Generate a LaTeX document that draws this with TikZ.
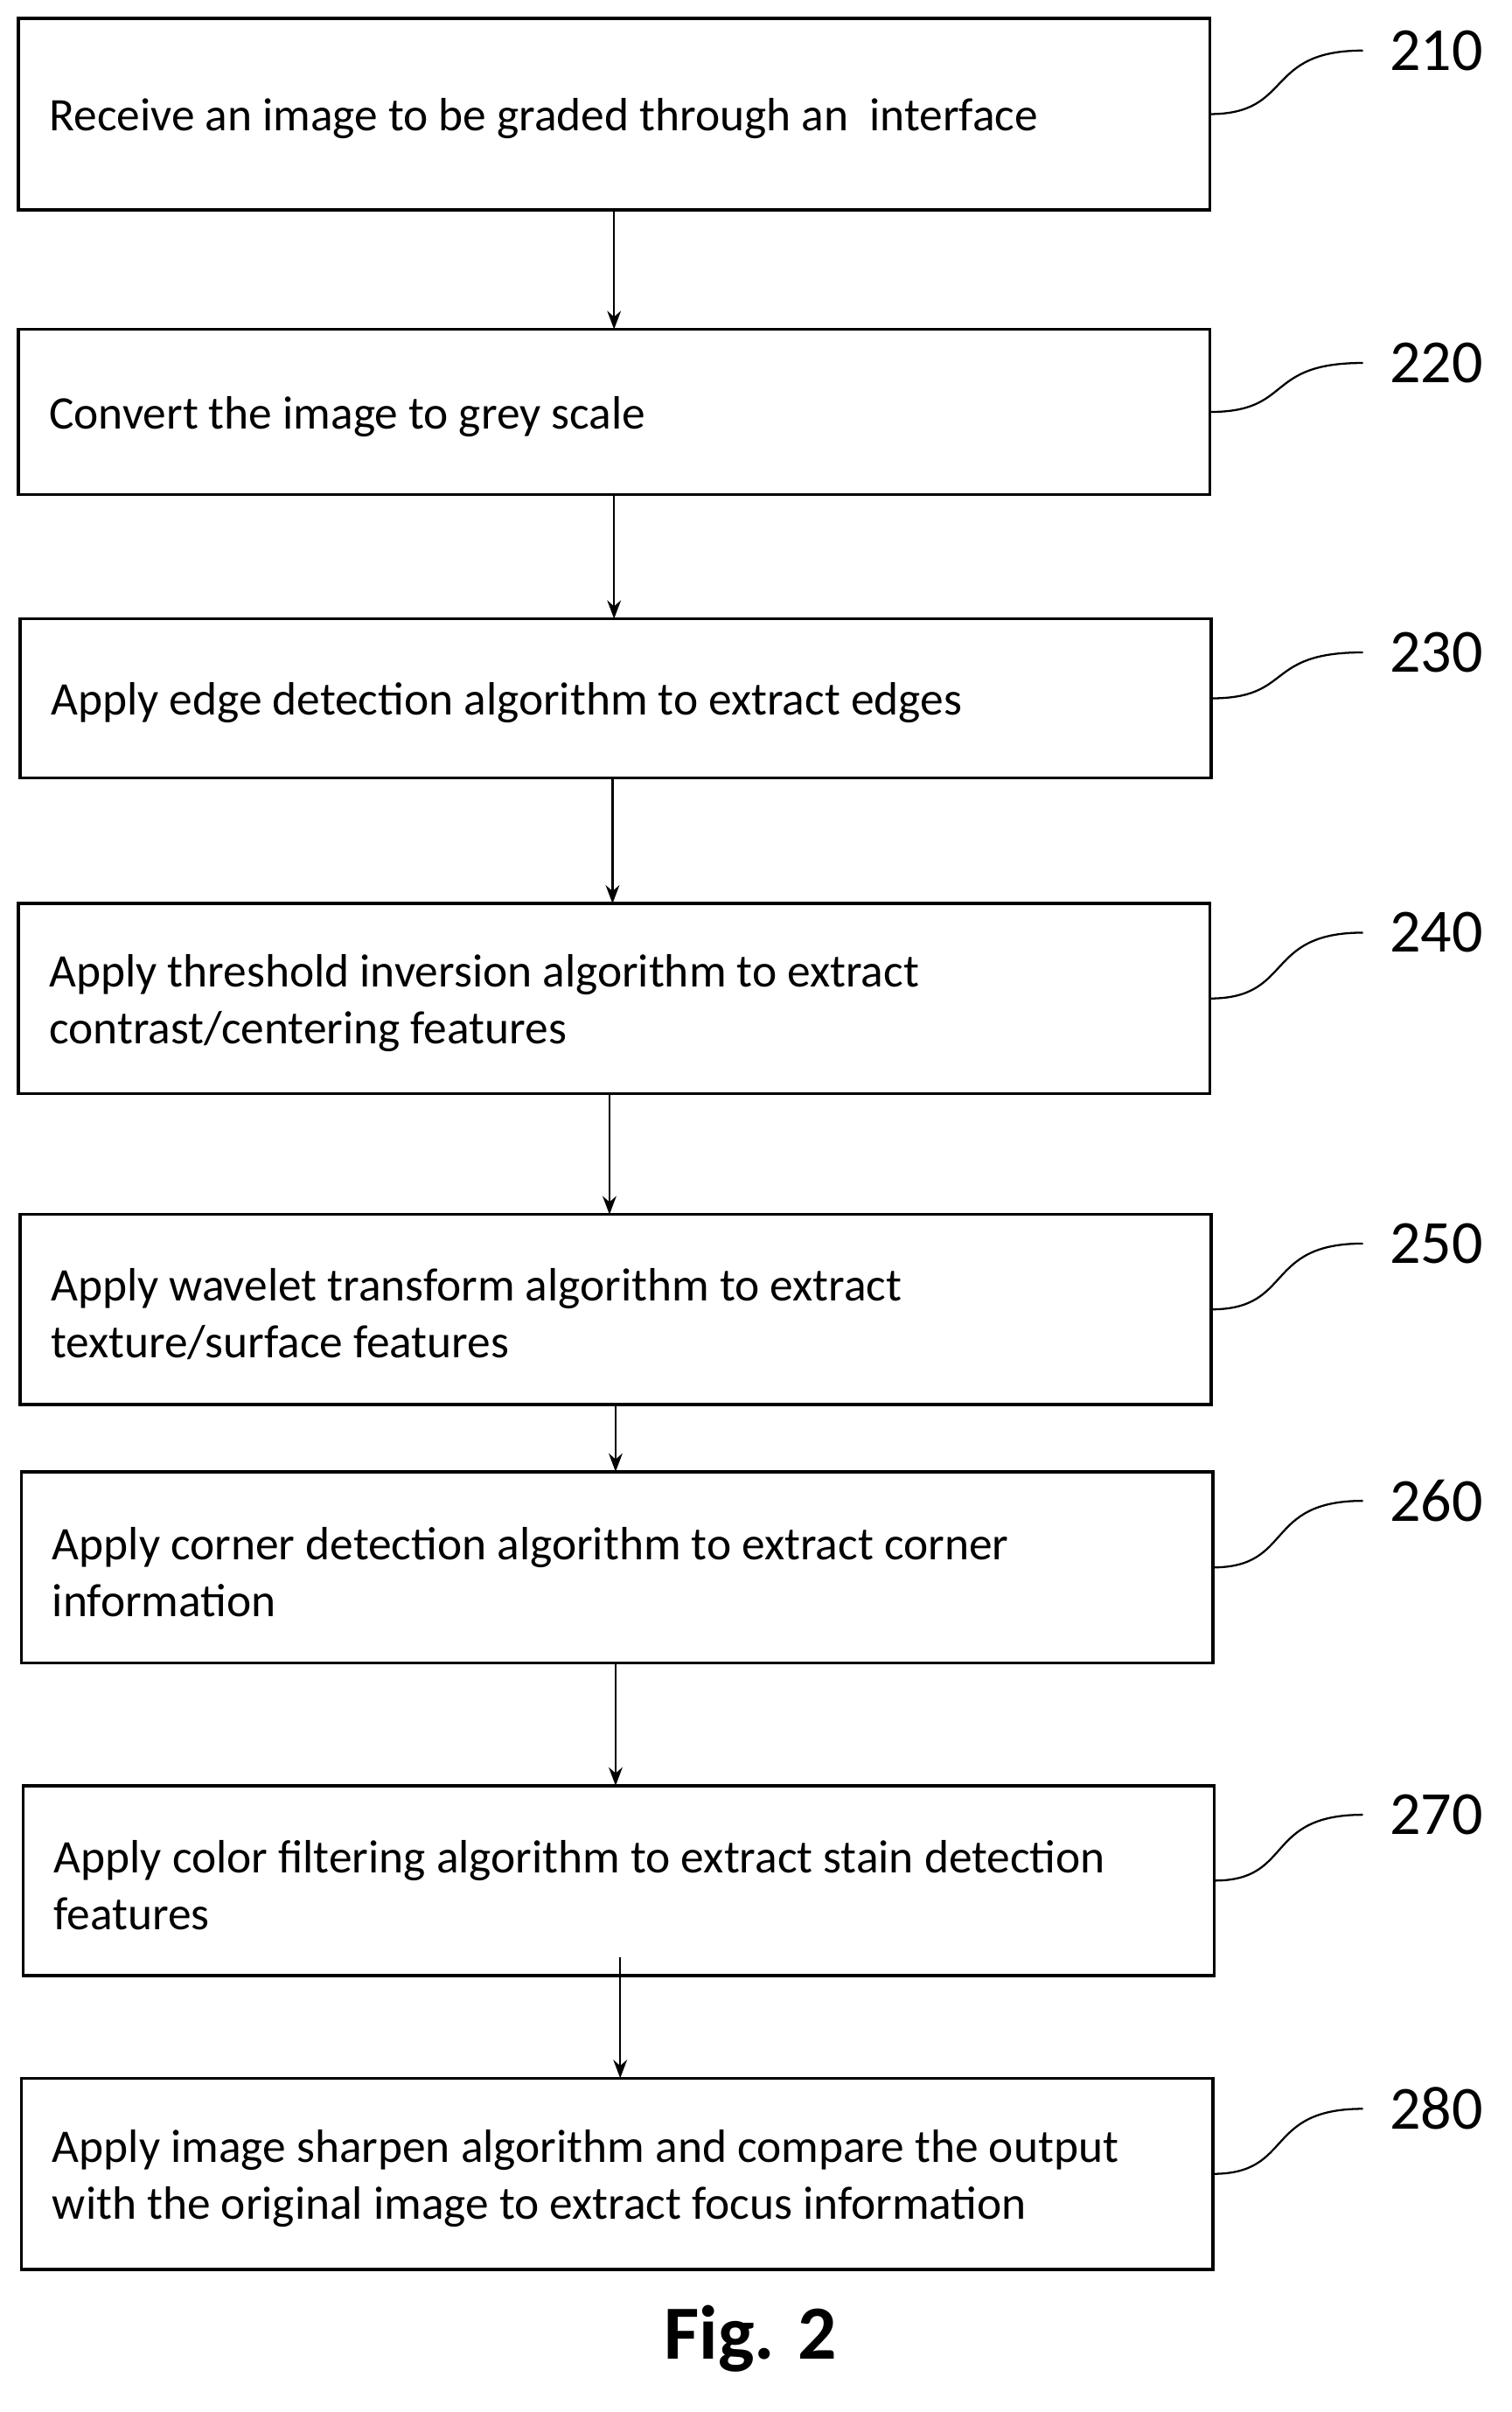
\documentclass[tikz,border=0pt]{standalone}
\usepackage{fontspec}
\setmainfont{Carlito}
\usetikzlibrary{arrows.meta}
\begin{document}
\begin{tikzpicture}[x=1pt,y=-1pt,
  box/.style={draw,line width=2pt},
  txt/.style={anchor=west,align=left,font=\fontsize{30.5}{37}\selectfont,inner sep=0pt},
  lab/.style={font=\fontsize{40}{44}\selectfont,anchor=center},
  arr/.style={-{Stealth[length=12pt,width=9pt]},line width=1.3pt},
  sq/.style={line width=1.3pt}]
\useasboundingbox (0,0) rectangle (987,1575);
\newcommand\mybox[8]{% name, x1,y1,x2,y2, text, label, labely
  \draw[box] (#2,#3) rectangle (#4,#5);
  \node[txt] (#1) at (#2+20,{(#3+#5)/2+3}) {#6};
  \coordinate (#1r) at (#4,{(#3+#5)/2});
  \node[lab] (#1l) at (938,#8) {#7};
  \draw[sq] (#1r) .. controls (845,{(#3+#5)/2}) and (825,#8) .. (890,#8);
}
\mybox{a}{12}{12}{790}{137}{Receive an image to be graded through an\ \ interface}{210}{33}
\mybox{b}{12}{215}{790}{323}{Convert the image to grey scale}{220}{237}
\mybox{c}{13}{404}{791}{508}{Apply edge detection algorithm to extract edges}{230}{426}
\mybox{d}{12}{590}{790}{714}{Apply threshold inversion algorithm to extract\\contrast/centering features}{240}{609}
\mybox{e}{13}{793}{791}{917}{Apply wavelet transform algorithm to extract\\texture/surface features}{250}{812}
\mybox{f}{14}{961}{792}{1086}{Apply corner detection algorithm to extract corner\\information}{260}{980}
\mybox{g}{15}{1166}{793}{1290}{Apply color filtering algorithm to extract stain detection\\features}{270}{1185}
\mybox{h}{14}{1357}{792}{1482}{Apply image sharpen algorithm and compare the output\\with the original image to extract focus information}{280}{1377}
\draw[arr] (401,137) -- (401,215);
\draw[arr] (401,323) -- (401,404);
\draw[arr] (400,508) -- (400,590);
\draw[arr] (398,714) -- (398,793);
\draw[arr] (402,917) -- (402,961);
\draw[arr] (402,1086) -- (402,1166);
\draw[arr] (405,1278) -- (405,1357);
\node[font=\bfseries\fontsize{50}{56}\selectfont] (fig) at (490,1527) {Fig. 2};
\end{tikzpicture}
\end{document}
